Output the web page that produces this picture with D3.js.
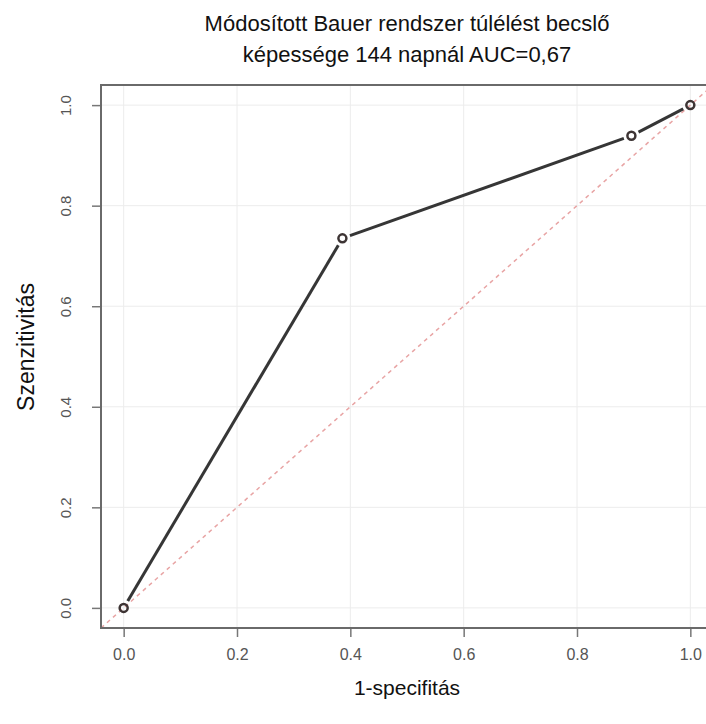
<!DOCTYPE html>
<html>
<head>
<meta charset="utf-8">
<script src="https://cdn.jsdelivr.net/npm/d3@7"></script>
<style>
  body { margin: 0; background: #fff; }
  svg { display: block; font-family: "Liberation Sans", Arial, sans-serif; }
</style>
</head>
<body>
<div id="chart"></div>
<script>
const titleLines = ["Módosított Bauer rendszer túlélést becslő", "képessége 144 napnál AUC=0,67"];
const xLabel = "1-specifitás";
const yLabel = "Szenzitivitás";

// ROC points
const fpr = [0, 0.386, 0.896, 1];
const tpr = [0, 0.735, 0.939, 1];
const tickValues = [0, 0.2, 0.4, 0.6, 0.8, 1.0];

const width = 706, height = 724;
const margin = { left: 101, right: -7, top: 85, bottom: 96 };

const svg = d3.select("#chart").append("svg")
  .attr("width", width)
  .attr("height", height);

const x = d3.scaleLinear().domain([-0.04, 1.04]).range([margin.left, width - margin.right]);
const y = d3.scaleLinear().domain([-0.04, 1.04]).range([height - margin.bottom, margin.top]);

svg.append("clipPath").attr("id", "plotclip")
  .append("rect")
  .attr("x", x(-0.04)).attr("y", y(1.04))
  .attr("width", x(1.04) - x(-0.04)).attr("height", y(-0.04) - y(1.04));

// grid
const grid = svg.append("g").attr("stroke", "#ececec").attr("stroke-width", 1);
grid.selectAll(".gx").data(tickValues).join("line")
  .attr("x1", d => x(d)).attr("x2", d => x(d))
  .attr("y1", y(1.04)).attr("y2", y(-0.04));
grid.selectAll(".gy").data(tickValues).join("line")
  .attr("y1", d => y(d)).attr("y2", d => y(d))
  .attr("x1", x(-0.04)).attr("x2", x(1.04));

// diagonal reference
svg.append("line")
  .attr("clip-path", "url(#plotclip)")
  .attr("x1", x(-0.04)).attr("y1", y(-0.04))
  .attr("x2", x(1.04)).attr("y2", y(1.04))
  .attr("stroke", "#e8a4a4")
  .attr("stroke-width", 1.5)
  .attr("stroke-dasharray", "4,4");

// ROC line segments with gaps around points (type = "b")
const pts = fpr.map((d, i) => ({ x: d, y: tpr[i] }));
const gap = 8;
const segs = [];
for (let i = 0; i < pts.length - 1; i++) {
  const x1 = x(pts[i].x), y1 = y(pts[i].y), x2 = x(pts[i + 1].x), y2 = y(pts[i + 1].y);
  const len = Math.hypot(x2 - x1, y2 - y1);
  const ux = (x2 - x1) / len, uy = (y2 - y1) / len;
  segs.push([x1 + ux * gap, y1 + uy * gap, x2 - ux * gap, y2 - uy * gap]);
}
svg.append("g").selectAll("line").data(segs).join("line")
  .attr("x1", d => d[0]).attr("y1", d => d[1])
  .attr("x2", d => d[2]).attr("y2", d => d[3])
  .attr("stroke", "#363636")
  .attr("stroke-width", 3);

svg.append("g").selectAll("circle").data(pts).join("circle")
  .attr("cx", d => x(d.x)).attr("cy", d => y(d.y))
  .attr("r", 4)
  .attr("fill", "none")
  .attr("stroke", "#3d3434")
  .attr("stroke-width", 2.5);

// axes
const xAxis = svg.append("g")
  .attr("transform", `translate(0,${y(-0.04)})`)
  .call(d3.axisBottom(x).tickValues(tickValues).tickFormat(d3.format(".1f")).tickSize(9).tickPadding(12));
const yAxis = svg.append("g")
  .attr("transform", `translate(${x(-0.04)},0)`)
  .call(d3.axisLeft(y).tickValues(tickValues).tickFormat(d3.format(".1f")).tickSize(9).tickPadding(8));

[xAxis, yAxis].forEach(a => {
  a.select(".domain").remove();
  a.selectAll(".tick line").attr("stroke", "#777").attr("stroke-width", 1.5);
  a.selectAll(".tick text").attr("fill", "#555").attr("font-family", "Liberation Sans, Arial, sans-serif");
});
xAxis.selectAll(".tick text").attr("font-size", 16);
yAxis.selectAll(".tick text")
  .attr("font-size", 15)
  .attr("transform", "rotate(-90)")
  .attr("x", 0).attr("y", -35)
  .attr("dy", "0.35em")
  .attr("text-anchor", "middle");

// box
svg.append("rect")
  .attr("x", x(-0.04)).attr("y", y(1.04))
  .attr("width", x(1.04) - x(-0.04)).attr("height", y(-0.04) - y(1.04))
  .attr("fill", "none")
  .attr("stroke", "#6a6a6a")
  .attr("stroke-width", 2);

// titles
const cx = (x(-0.04) + x(1.04)) / 2;
svg.append("g").selectAll("text").data(titleLines).join("text")
  .attr("x", cx).attr("y", (d, i) => 31 + i * 31)
  .attr("text-anchor", "middle")
  .attr("font-size", 22)
  .attr("fill", "#111")
  .text(d => d);

svg.append("text")
  .attr("x", cx).attr("y", 695)
  .attr("text-anchor", "middle")
  .attr("font-size", 21)
  .attr("fill", "#111")
  .text(xLabel);

svg.append("text")
  .attr("transform", `translate(34,347) rotate(-90)`)
  .attr("text-anchor", "middle")
  .attr("font-size", 23)
  .attr("fill", "#111")
  .text(yLabel);
</script>
</body>
</html>
